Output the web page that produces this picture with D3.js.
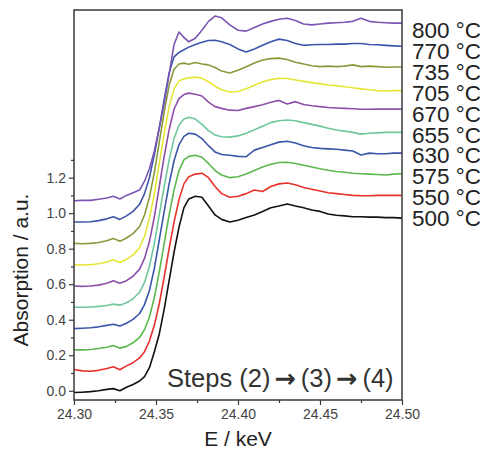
<!DOCTYPE html>
<html>
<head>
<meta charset="utf-8">
<script src="https://cdn.jsdelivr.net/npm/d3@7"></script>
<style>
  body { margin: 0; background: #fff; }
  svg { display: block; font-family: "Liberation Sans", Arial, sans-serif; }
</style>
</head>
<body>
<div id="chart"></div>
<script>
// energy grid (keV)
var energy = [24.300, 24.305, 24.310, 24.315, 24.320, 24.324, 24.328, 24.332, 24.336, 24.340,
  24.343, 24.346, 24.349, 24.352, 24.355, 24.358, 24.361, 24.364, 24.367, 24.370,
  24.374, 24.378, 24.382, 24.386, 24.390, 24.395, 24.400, 24.405, 24.410, 24.415,
  24.420, 24.425, 24.430, 24.435, 24.440, 24.445, 24.450, 24.455, 24.460, 24.465,
  24.470, 24.475, 24.480, 24.485, 24.490, 24.495, 24.500];

var temps = ["800 °C", "770 °C", "735 °C", "705 °C", "670 °C", "655 °C", "630 °C", "575 °C", "550 °C", "500 °C"];
var colors = ["#7b55b2", "#3d55a9", "#8a993c", "#e6e638", "#8e4ea9", "#6fc79c", "#3a56a8", "#5bb84c", "#e7312a", "#111111"];

// stacked spectra, one array per temperature
var t800 = [1.070, 1.072, 1.072, 1.078, 1.085, 1.095, 1.080, 1.100, 1.115, 1.130,
  1.180, 1.250, 1.350, 1.480, 1.620, 1.780, 1.950, 2.020, 1.990, 1.965,
  1.985, 2.030, 2.080, 2.110, 2.100, 2.060, 2.030, 2.025, 2.045, 2.065,
  2.080, 2.092, 2.098, 2.085, 2.065, 2.060, 2.065, 2.070, 2.072, 2.075,
  2.080, 2.098, 2.080, 2.075, 2.072, 2.070, 2.070];
var t770 = [0.950, 0.950, 0.952, 0.958, 0.968, 0.980, 0.965, 0.985, 1.010, 1.050,
  1.110, 1.200, 1.330, 1.480, 1.640, 1.790, 1.880, 1.905, 1.920, 1.935,
  1.950, 1.962, 1.972, 1.974, 1.965, 1.950, 1.925, 1.908, 1.925, 1.945,
  1.965, 1.980, 1.972, 1.955, 1.945, 1.948, 1.950, 1.950, 1.952, 1.952,
  1.955, 1.955, 1.950, 1.948, 1.945, 1.942, 1.940];
var t735 = [0.830, 0.828, 0.830, 0.835, 0.845, 0.858, 0.842, 0.860, 0.885, 0.925,
  0.990, 1.090, 1.230, 1.400, 1.570, 1.720, 1.810, 1.840, 1.845, 1.838,
  1.848, 1.840, 1.835, 1.820, 1.800, 1.789, 1.805, 1.825, 1.845, 1.862,
  1.870, 1.873, 1.865, 1.850, 1.840, 1.830, 1.825, 1.828, 1.825, 1.828,
  1.835, 1.825, 1.828, 1.825, 1.822, 1.823, 1.823];
var t705 = [0.710, 0.708, 0.710, 0.715, 0.725, 0.738, 0.722, 0.740, 0.765, 0.805,
  0.870, 0.970, 1.110, 1.280, 1.450, 1.600, 1.700, 1.745, 1.755, 1.762,
  1.766, 1.760, 1.740, 1.715, 1.695, 1.682, 1.685, 1.700, 1.720, 1.740,
  1.752, 1.760, 1.758, 1.750, 1.742, 1.735, 1.728, 1.722, 1.718, 1.712,
  1.706, 1.700, 1.695, 1.690, 1.688, 1.690, 1.690];
var t670 = [0.590, 0.588, 0.590, 0.595, 0.605, 0.620, 0.605, 0.620, 0.645, 0.685,
  0.745, 0.840, 0.980, 1.150, 1.320, 1.470, 1.585, 1.645, 1.668, 1.676,
  1.670, 1.660, 1.625, 1.600, 1.590, 1.580, 1.578, 1.590, 1.600, 1.610,
  1.625, 1.635, 1.615, 1.628, 1.612, 1.605, 1.600, 1.595, 1.592, 1.590,
  1.588, 1.585, 1.585, 1.586, 1.586, 1.586, 1.586];
var t655 = [0.470, 0.470, 0.472, 0.475, 0.480, 0.488, 0.482, 0.495, 0.518, 0.555,
  0.610, 0.700, 0.830, 0.990, 1.150, 1.300, 1.420, 1.495, 1.530, 1.540,
  1.530, 1.500, 1.465, 1.440, 1.430, 1.428, 1.435, 1.450, 1.470, 1.490,
  1.510, 1.520, 1.525, 1.520, 1.510, 1.500, 1.490, 1.478, 1.468, 1.462,
  1.455, 1.445, 1.450, 1.452, 1.455, 1.455, 1.455];
var t630 = [0.350, 0.352, 0.355, 0.360, 0.368, 0.375, 0.365, 0.380, 0.402, 0.435,
  0.485, 0.565, 0.690, 0.850, 1.010, 1.165, 1.295, 1.385, 1.432, 1.450,
  1.445, 1.420, 1.380, 1.345, 1.330, 1.326, 1.320, 1.318, 1.355, 1.370,
  1.385, 1.400, 1.405, 1.395, 1.380, 1.370, 1.365, 1.362, 1.360, 1.355,
  1.350, 1.328, 1.338, 1.335, 1.335, 1.338, 1.338];
var t575 = [0.230, 0.230, 0.232, 0.238, 0.245, 0.255, 0.240, 0.250, 0.270, 0.300,
  0.345, 0.415, 0.525, 0.670, 0.830, 0.990, 1.130, 1.240, 1.300, 1.320,
  1.326, 1.315, 1.280, 1.240, 1.215, 1.200, 1.205, 1.220, 1.240, 1.260,
  1.275, 1.285, 1.287, 1.280, 1.270, 1.260, 1.250, 1.242, 1.235, 1.230,
  1.225, 1.222, 1.220, 1.218, 1.215, 1.220, 1.222];
var t550 = [0.120, 0.112, 0.110, 0.115, 0.125, 0.135, 0.118, 0.140, 0.158, 0.185,
  0.220, 0.280, 0.370, 0.490, 0.640, 0.800, 0.950, 1.075, 1.165, 1.205,
  1.220, 1.225, 1.200, 1.150, 1.110, 1.090, 1.095, 1.110, 1.130, 1.122,
  1.150, 1.165, 1.170, 1.160, 1.145, 1.135, 1.125, 1.115, 1.110, 1.105,
  1.100, 1.098, 1.098, 1.100, 1.100, 1.100, 1.100];
var t500 = [-0.010, -0.008, -0.005, 0.000, 0.008, 0.012, 0.000, 0.020, 0.035, 0.055,
  0.080, 0.130, 0.220, 0.320, 0.460, 0.620, 0.780, 0.920, 1.030, 1.080,
  1.095, 1.090, 1.040, 0.990, 0.965, 0.950, 0.960, 0.975, 0.990, 1.010,
  1.030, 1.040, 1.052, 1.040, 1.030, 1.018, 1.010, 0.995, 0.988, 0.985,
  0.980, 0.980, 0.978, 0.978, 0.975, 0.975, 0.972];

var spectra = [t800, t770, t735, t705, t670, t655, t630, t575, t550, t500];

var xMajor = [24.30, 24.35, 24.40, 24.45, 24.50];
var xMinor = [24.325, 24.375, 24.425, 24.475];
var yMajor = [0.0, 0.2, 0.4, 0.6, 0.8, 1.0, 1.2];
var yMinor = [0.1, 0.3, 0.5, 0.7, 0.9, 1.1, 1.3];

var W = 487, H = 449;
var margin = {top: 10, right: 85, bottom: 49, left: 74};
var width = W - margin.left - margin.right,
    height = H - margin.top - margin.bottom;

var svg = d3.select("#chart").append("svg")
    .attr("width", W).attr("height", H);
var g = svg.append("g")
    .attr("transform", "translate(" + margin.left + "," + margin.top + ")");

var x = d3.scaleLinear().domain([24.30, 24.50]).range([0, width]);
var y = d3.scaleLinear().domain([-0.052, 2.144]).range([height, 0]);

var line = d3.line()
    .x(function(d, i) { return x(energy[i]); })
    .y(function(d) { return y(d); });

// spectra, bottom first
g.selectAll(".spec")
  .data(spectra.slice().reverse())
  .enter().append("path")
    .attr("class", "spec")
    .attr("d", line)
    .attr("fill", "none")
    .attr("stroke", function(d, i) { return colors[colors.length - 1 - i]; })
    .attr("stroke-width", 1.6)
    .attr("stroke-linejoin", "round");

// frame
g.append("rect")
  .attr("width", width).attr("height", height)
  .attr("fill", "none").attr("stroke", "#3a3a3a").attr("stroke-width", 1.5);

// x axis
g.append("g")
  .attr("transform", "translate(0," + height + ")")
  .call(d3.axisBottom(x).tickValues(xMajor).tickSize(5).tickPadding(4)
    .tickFormat(d3.format(".2f")));
g.append("g")
  .attr("transform", "translate(0," + height + ")")
  .call(d3.axisBottom(x).tickValues(xMinor).tickSize(3).tickFormat(""));

// y axis
g.append("g")
  .call(d3.axisLeft(y).tickValues(yMajor).tickSize(5).tickPadding(3)
    .tickFormat(d3.format(".1f")));
g.append("g")
  .call(d3.axisLeft(y).tickValues(yMinor).tickSize(3).tickFormat(""));

g.selectAll(".domain").remove();
g.selectAll(".tick line").attr("stroke", "#3a3a3a").attr("stroke-width", 1.2);
g.selectAll(".tick text")
  .attr("fill", "#444")
  .style("font-size", "14px")
  .style("font-family", "Liberation Sans, Arial, sans-serif");

// axis titles
svg.append("text")
  .attr("x", margin.left + width / 2)
  .attr("y", 446)
  .attr("text-anchor", "middle")
  .attr("fill", "#222")
  .style("font-size", "21px")
  .text("E / keV");

svg.append("text")
  .attr("transform", "translate(28,270)rotate(-90)")
  .attr("text-anchor", "middle")
  .attr("fill", "#222")
  .style("font-size", "21px")
  .text("Absorption / a.u.");

// temperature labels
svg.selectAll(".temp")
  .data(temps)
  .enter().append("text")
    .attr("class", "temp")
    .attr("x", 412)
    .attr("y", function(d, i) { return 38 + i * 20.9; })
    .attr("fill", "#222")
    .style("font-size", "22.5px")
    .text(function(d) { return d; });

// steps annotation
var steps = g.append("text")
  .attr("x", 93)
  .attr("y", 377)
  .attr("fill", "#333")
  .style("font-size", "25.5px");
steps.append("tspan").text("Steps (2)");
steps.append("tspan").attr("dx", 4).style("font-weight", "bold").style("font-family", "DejaVu Sans").text("\u2192");
steps.append("tspan").attr("dx", 5).text("(3)");
steps.append("tspan").attr("dx", 4).style("font-weight", "bold").style("font-family", "DejaVu Sans").text("\u2192");
steps.append("tspan").attr("dx", 5).text("(4)");
</script>
</body>
</html>
